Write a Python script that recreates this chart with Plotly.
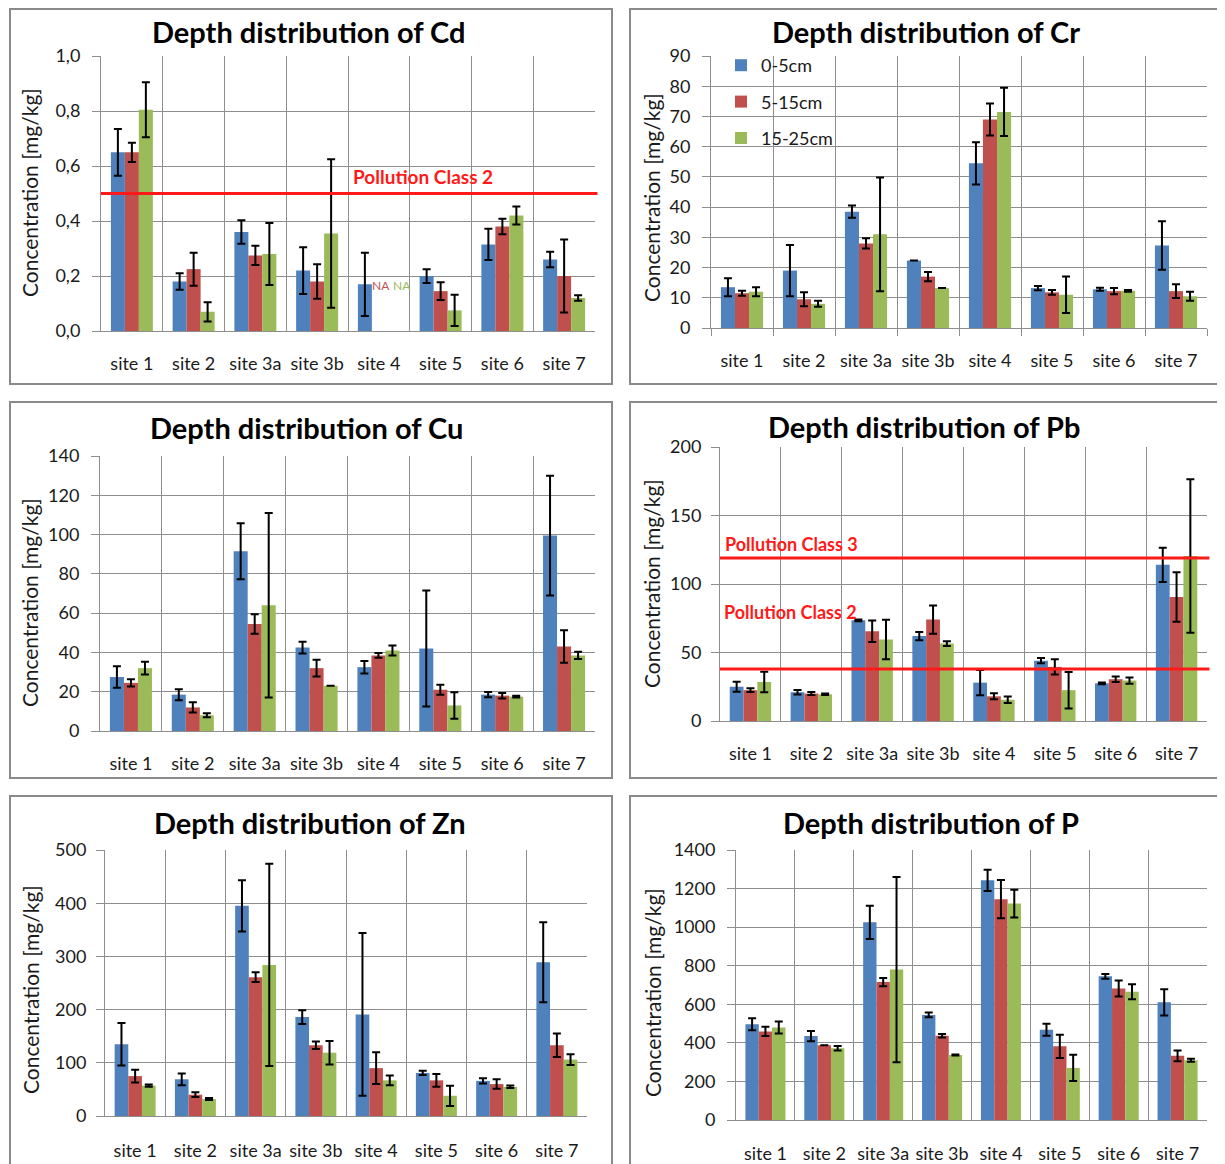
import plotly.graph_objects as go

# ---------------- data ----------------
SITES = ["site 1", "site 2", "site 3a", "site 3b", "site 4", "site 5", "site 6", "site 7"]
DEPTHS = ["0-5cm", "5-15cm", "15-25cm"]
COLORS = ["#4F81BD", "#C0504D", "#9BBB59"]

cd_0_5 = [0.65, 0.18, 0.36, 0.22, 0.17, 0.20, 0.315, 0.26]
cd_0_5_err = [0.085, 0.03, 0.043, 0.085, 0.115, 0.025, 0.057, 0.028]
cd_5_15 = [0.65, 0.225, 0.275, 0.18, None, 0.145, 0.38, 0.20]
cd_5_15_err = [0.035, 0.06, 0.035, 0.063, None, 0.032, 0.028, 0.133]
cd_15_25 = [0.805, 0.07, 0.28, 0.355, None, 0.075, 0.42, 0.12]
cd_15_25_err = [0.1, 0.035, 0.113, 0.27, None, 0.057, 0.033, 0.01]

cr_0_5 = [13.5, 19, 38.5, 22.3, 54.5, 13.2, 12.8, 27.3]
cr_0_5_err = [3, 8.5, 2, None, 7, 0.7, 0.5, 8]
cr_5_15 = [11.5, 9.5, 28, 17, 69, 11.8, 12.2, 12.2]
cr_5_15_err = [0.8, 2.3, 1.7, 1.5, 5.3, 0.8, 1, 2.3]
cr_15_25 = [12, 8, 31, 13.2, 71.5, 11, 12.3, 10.5]
cr_15_25_err = [1.5, 1, 18.8, None, 8, 6, 0.3, 1.5]

cu_0_5 = [27.5, 18.5, 91.5, 42.5, 32.5, 42, 18.5, 99.5]
cu_0_5_err = [5.5, 2.8, 14.3, 3, 3.2, 29.5, 1.3, 30.5]
cu_5_15 = [24.5, 12, 54.5, 32, 38.5, 21, 18, 43]
cu_5_15_err = [1.8, 2.6, 5, 4.3, 1.2, 2.5, 1.4, 8.3]
cu_15_25 = [32, 8, 64, 23, 41, 13, 17.5, 38.5]
cu_15_25_err = [3.2, 1, 47, None, 2.5, 6.7, 0.5, 1.8]

pb_0_5 = [25, 21, 73.5, 62, 28, 44, 27.5, 114]
pb_0_5_err = [3.6, 1.7, 0.6, 3, 9.2, 1.9, 0.6, 12.5]
pb_5_15 = [22.5, 20, 65.5, 74, 18, 39.5, 30.5, 90.5]
pb_5_15_err = [1.4, 1.1, 7.8, 10.3, 2.2, 5.6, 2, 18]
pb_15_25 = [28.5, 19.5, 59.5, 56.5, 15.5, 22.5, 29.5, 120.5]
pb_15_25_err = [7.5, 0.6, 14.4, 1.7, 2.4, 13.3, 2.3, 56]

zn_0_5 = [135, 69, 395, 186, 191, 81, 66, 289]
zn_0_5_err = [40, 11, 48, 13, 153, 4, 5, 75]
zn_5_15 = [75, 40, 261, 133, 90, 67, 60, 133]
zn_5_15_err = [12, 4.5, 9, 7, 30, 12, 9, 22]
zn_15_25 = [57, 32, 284, 119, 67, 38, 55, 106]
zn_15_25_err = [2, 2, 190, 22, 9, 19, 2.5, 10]

p_0_5 = [497, 435, 1025, 545, 1243, 468, 745, 610]
p_0_5_err = [31, 27, 86, 12, 55, 31, 12, 68]
p_5_15 = [459, 388, 715, 437, 1145, 382, 682, 333]
p_5_15_err = [24, None, 21, 9, 99, 60, 41, 28]
p_15_25 = [480, 372, 780, 337, 1122, 270, 665, 310]
p_15_25_err = [31, 12, 480, 3, 72, 68, 39, 8]

cd_limits = [0.5]
cd_limit_labels = ["Pollution Class 2"]
pb_limits = [119, 38]
pb_limit_labels = ["Pollution Class 3", "Pollution Class 2"]

# ---------------- layout helpers ----------------
# the page body adds an 8 px margin; the figure is offset accordingly
OFF = 8
W, H = 1217, 1156
FONT = "Lato"
GRID = "#8E8E8E"
TXT = "#1a1a1a"


def fx(v):
    return (v - OFF) / W


def fy(v):
    return 1 - (v - OFF) / H


panels = [
    dict(el="Cd", vals=(cd_0_5, cd_5_15, cd_15_25), errs=(cd_0_5_err, cd_5_15_err, cd_15_25_err),
         yr=[0, 1], dt=0.2, fmt=".1f", xd=(101, 595), yd=(56, 331), box=(10, 9, 612, 384),
         tt=(308, 32), yt=(30, 193), xticks=False, ysoff=8, xsoff=16,
         limits=cd_limits, labels=cd_limit_labels, lab_x=[351], lab_shift=[17], lab_size=19),
    dict(el="Cr", vals=(cr_0_5, cr_5_15, cr_15_25), errs=(cr_0_5_err, cr_5_15_err, cr_15_25_err),
         yr=[0, 90], dt=10, fmt="", xd=(711, 1207), yd=(56, 328), box=(630, 9, 1222, 384),
         tt=(926, 32), yt=(652, 198), xticks=True, ysoff=8, xsoff=16,
         limits=[], labels=[], lab_x=[], lab_shift=[], lab_size=19),
    dict(el="Cu", vals=(cu_0_5, cu_5_15, cu_15_25), errs=(cu_0_5_err, cu_5_15_err, cu_15_25_err),
         yr=[0, 140], dt=20, fmt="", xd=(100, 595), yd=(456, 731), box=(10, 402, 612, 778),
         tt=(306, 427), yt=(30, 603), xticks=False, ysoff=8, xsoff=16,
         limits=[], labels=[], lab_x=[], lab_shift=[], lab_size=19),
    dict(el="Pb", vals=(pb_0_5, pb_5_15, pb_15_25), errs=(pb_0_5_err, pb_5_15_err, pb_15_25_err),
         yr=[0, 200], dt=50, fmt="", xd=(720, 1207), yd=(447, 721), box=(630, 402, 1222, 778),
         tt=(924, 426), yt=(651, 584), xticks=False, ysoff=6, xsoff=16,
         limits=pb_limits, labels=pb_limit_labels, lab_x=[723, 722], lab_shift=[14, 57], lab_size=18),
    dict(el="Zn", vals=(zn_0_5, zn_5_15, zn_15_25), errs=(zn_0_5_err, zn_5_15_err, zn_15_25_err),
         yr=[0, 500], dt=100, fmt="", xd=(105, 587), yd=(850, 1116), box=(10, 796, 612, 1175),
         tt=(310, 822), yt=(30, 990), xticks=False, ysoff=6, xsoff=18,
         limits=[], labels=[], lab_x=[], lab_shift=[], lab_size=19),
    dict(el="P", vals=(p_0_5, p_5_15, p_15_25), errs=(p_0_5_err, p_5_15_err, p_15_25_err),
         yr=[0, 1400], dt=200, fmt="", xd=(736, 1207), yd=(850, 1120), box=(630, 796, 1222, 1175),
         tt=(931, 822), yt=(652, 993), xticks=False, ysoff=8, xsoff=17,
         limits=[], labels=[], lab_x=[], lab_shift=[], lab_size=19),
]

fig = go.Figure()
shapes = []
annotations = []
layout_axes = {}

for i, pn in enumerate(panels):
    n = i + 1
    sfx = "" if n == 1 else str(n)
    xref, yref = "x" + sfx, "y" + sfx
    for k in range(3):
        fig.add_trace(go.Bar(
            x=SITES, y=pn["vals"][k], name=DEPTHS[k],
            marker=dict(color=COLORS[k], line=dict(width=0)),
            error_y=dict(type="data", array=pn["errs"][k], visible=True,
                         color="black", thickness=2, width=4),
            xaxis=xref, yaxis=yref,
            showlegend=(pn["el"] == "Cr"), legendgroup="g%d" % k,
        ))
    layout_axes["xaxis" + sfx] = dict(
        domain=[fx(pn["xd"][0]), fx(pn["xd"][1])], anchor=yref, automargin=False,
        type="category", categoryorder="array", categoryarray=SITES,
        tickson="boundaries", showgrid=True, gridcolor=GRID, gridwidth=1,
        showline=True, linecolor=GRID, linewidth=1, tickangle=0,
        ticks="outside" if pn["xticks"] else "", ticklen=7, tickcolor=GRID,
        tickfont=dict(family=FONT, size=18, color=TXT),
        ticklabelstandoff=pn["xsoff"], fixedrange=True,
    )
    layout_axes["yaxis" + sfx] = dict(
        domain=[fy(pn["yd"][1]), fy(pn["yd"][0])], anchor=xref, automargin=False,
        range=pn["yr"], tick0=0, dtick=pn["dt"], tickformat=pn["fmt"],
        showgrid=True, gridcolor=GRID, gridwidth=1, zeroline=False,
        showline=True, linecolor=GRID, linewidth=1,
        ticks="outside", ticklen=8, tickcolor=GRID,
        tickfont=dict(family=FONT, size=18, color=TXT),
        ticklabelstandoff=pn["ysoff"], fixedrange=True,
    )
    # chart-area border
    bx = pn["box"]
    shapes.append(dict(type="rect", xref="paper", yref="paper",
                       x0=fx(bx[0]), x1=fx(bx[2]), y0=fy(bx[3]), y1=fy(bx[1]),
                       line=dict(color="#8A8A8A", width=2), fillcolor="rgba(0,0,0,0)", layer="below"))
    # titles
    annotations.append(dict(text="<b>Depth distribution of %s</b>" % pn["el"], xref="paper", yref="paper",
                            x=fx(pn["tt"][0]), y=fy(pn["tt"][1]), xanchor="center", yanchor="middle",
                            showarrow=False, font=dict(family=FONT, size=29, color="#000000")))
    annotations.append(dict(text="Concentration [mg/kg]", xref="paper", yref="paper",
                            x=fx(pn["yt"][0]), y=fy(pn["yt"][1]), xanchor="center", yanchor="middle",
                            textangle=-90, showarrow=False,
                            font=dict(family=FONT, size=21, color=TXT)))
    # pollution class limits
    plot_w = pn["xd"][1] - pn["xd"][0]
    for lim, lab, lx, ls in zip(pn["limits"], pn["labels"], pn["lab_x"], pn["lab_shift"]):
        shapes.append(dict(type="line", xref=xref + " domain", yref=yref, x0=0, x1=1.005, y0=lim, y1=lim,
                           line=dict(color="#FF1A1A", width=3), layer="above"))
        annotations.append(dict(text=lab, xref=xref + " domain", yref=yref,
                                x=(lx - pn["xd"][0]) / plot_w, y=lim, xanchor="left", yanchor="middle",
                                yshift=ls, showarrow=False,
                                font=dict(family=FONT, size=pn["lab_size"], color="#FF1A1A",
                                          weight="bold")))

# NA labels for missing Cd values at site 4
for k, shift in ((1, 2), (2, 23)):
    annotations.append(dict(text="NA", x="site 4", y=0.167, xref="x", yref="y", xshift=shift,
                            showarrow=False, font=dict(family=FONT, size=12, color=COLORS[k])))

fig.update_layout(
    width=W, height=H, margin=dict(l=0, r=0, t=0, b=0, autoexpand=False),
    paper_bgcolor="white", plot_bgcolor="white",
    barmode="group", bargap=0.32, bargroupgap=0,
    separators=", ",
    font=dict(family=FONT, color=TXT),
    legend=dict(x=fx(721), y=fy(47), xanchor="left", yanchor="top",
                bgcolor="rgba(0,0,0,0)", tracegroupgap=10,
                font=dict(family=FONT, size=18, color=TXT), itemwidth=30),
    shapes=shapes, annotations=annotations,
    **layout_axes,
)

fig.write_html("out.html")
